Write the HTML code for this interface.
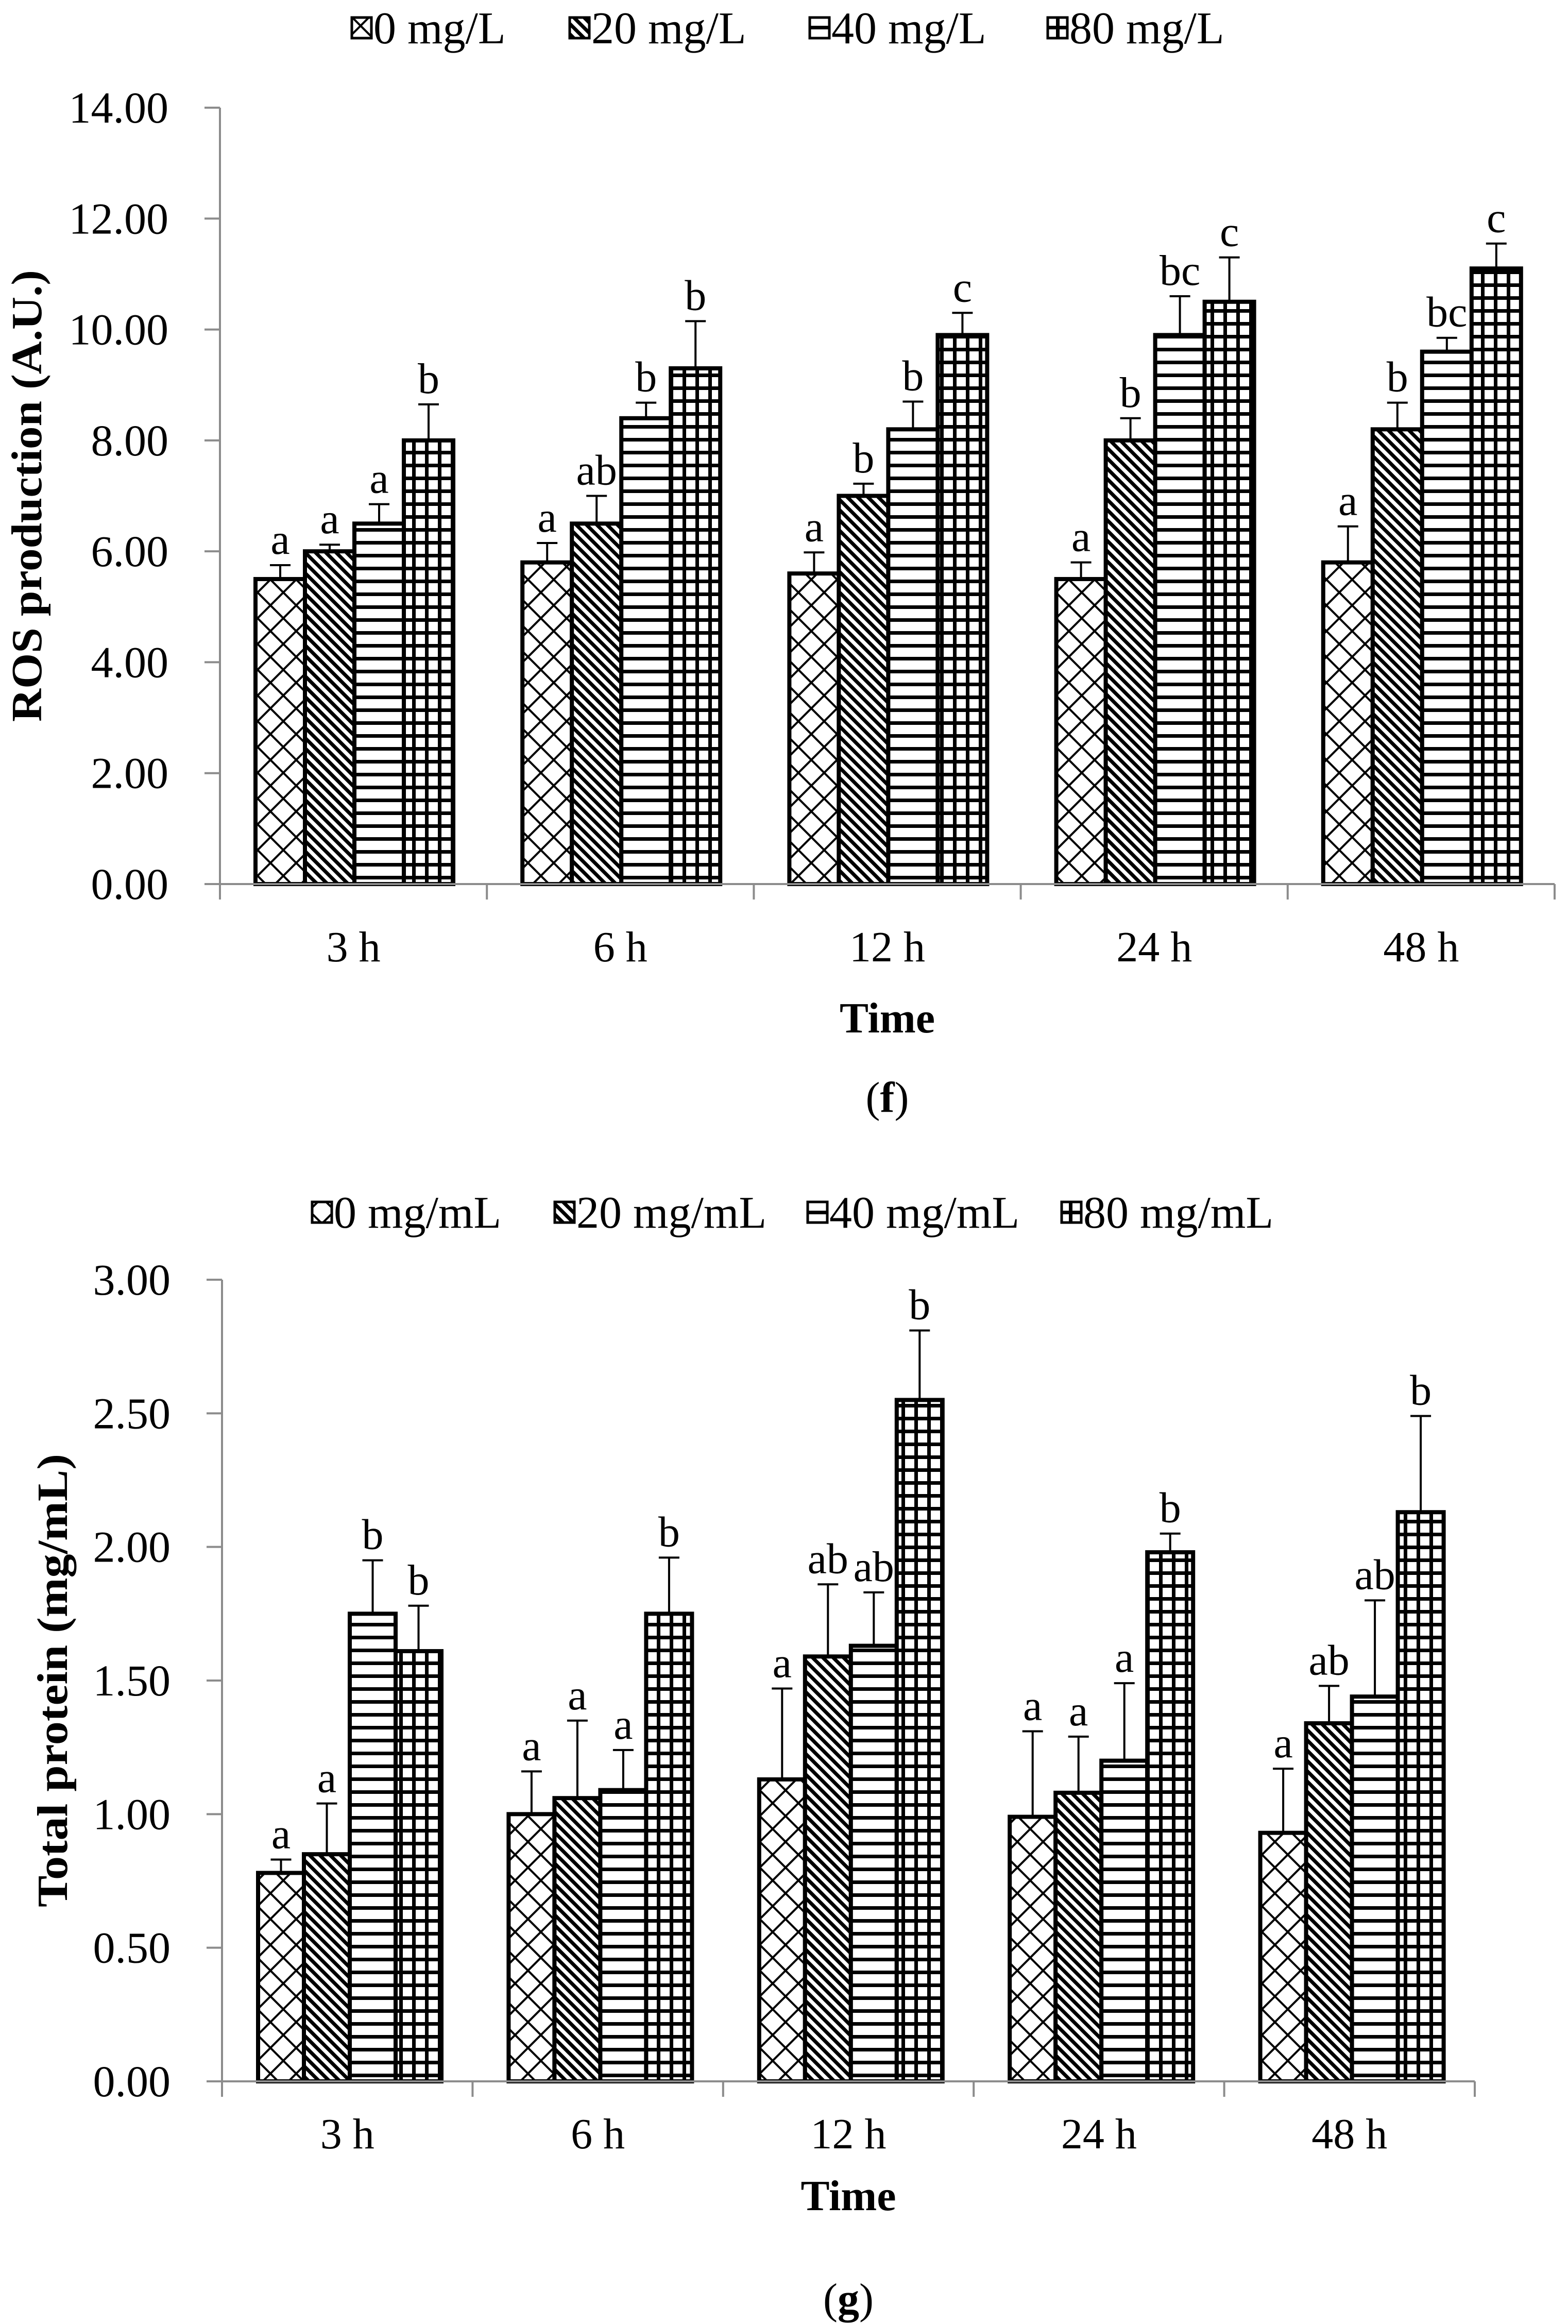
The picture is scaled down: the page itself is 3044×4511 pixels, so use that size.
<!DOCTYPE html>
<html><head><meta charset="utf-8"><style>
html,body{margin:0;padding:0;background:#fff}
svg{display:block}
text{font-family:"Liberation Serif",serif;fill:#000}
</style></head><body>
<svg id="fig" width="3044" height="4511" viewBox="0 0 3044 4511" xmlns="http://www.w3.org/2000/svg">
<defs>
<pattern id="p0" patternUnits="userSpaceOnUse" width="50" height="50"><rect width="50" height="50" fill="#fff"/><path d="M0 0L50 50M50 0L0 50" stroke="#000" stroke-width="4"/></pattern>
<pattern id="p1" patternUnits="userSpaceOnUse" width="20" height="20"><rect width="20" height="20" fill="#fff"/><path d="M-5 -5L25 25M-5 15L5 25M15 -5L25 5" stroke="#000" stroke-width="7"/></pattern>
<pattern id="p2" patternUnits="userSpaceOnUse" width="25" height="25"><rect width="25" height="25" fill="#fff"/><rect y="0" width="25" height="7" fill="#000"/></pattern>
<pattern id="p3" patternUnits="userSpaceOnUse" width="25" height="25"><rect width="25" height="25" fill="#fff"/><rect y="0" width="25" height="7" fill="#000"/><rect x="0" width="7" height="25" fill="#000"/></pattern>
</defs>
<g id="chartF"></g>
<g id="chartG"></g>
</svg>
<script>
const categories = ["3 h","6 h","12 h","24 h","48 h"];
const rosLegend = ["0 mg/L","20 mg/L","40 mg/L","80 mg/L"];
const ros0 = [5.5,5.8,5.6,5.5,5.8];
const ros20 = [6.0,6.5,7.0,8.0,8.2];
const ros40 = [6.5,8.4,8.2,9.9,9.6];
const ros80 = [8.0,9.3,9.9,10.5,11.1];
const rosErr0 = [0.25,0.35,0.38,0.3,0.65];
const rosErr20 = [0.12,0.5,0.22,0.4,0.48];
const rosErr40 = [0.35,0.28,0.5,0.7,0.25];
const rosErr80 = [0.65,0.85,0.4,0.8,0.45];
const rosLetters0 = ["a","a","a","a","a"];
const rosLetters20 = ["a","ab","b","b","b"];
const rosLetters40 = ["a","b","b","bc","bc"];
const rosLetters80 = ["b","b","c","c","c"];
const rosTicks = ["0.00","2.00","4.00","6.00","8.00","10.00","12.00","14.00"];

const protLegend = ["0 mg/mL","20 mg/mL","40 mg/mL","80 mg/mL"];
const prot0 = [0.78,1.0,1.13,0.99,0.93];
const prot20 = [0.85,1.06,1.59,1.08,1.34];
const prot40 = [1.75,1.09,1.63,1.2,1.44];
const prot80 = [1.61,1.75,2.55,1.98,2.13];
const protErr0 = [0.05,0.16,0.34,0.32,0.24];
const protErr20 = [0.19,0.29,0.27,0.21,0.14];
const protErr40 = [0.2,0.15,0.2,0.29,0.36];
const protErr80 = [0.17,0.21,0.26,0.07,0.36];
const protLetters0 = ["a","a","a","a","a"];
const protLetters20 = ["a","a","ab","a","ab"];
const protLetters40 = ["b","a","ab","a","ab"];
const protLetters80 = ["b","b","b","b","b"];
const protTicks = ["0.00","0.50","1.00","1.50","2.00","2.50","3.00"];

const NS="http://www.w3.org/2000/svg";
function mk(parent,tag,attrs,txt){const e=document.createElementNS(NS,tag);for(const k in attrs)e.setAttribute(k,attrs[k]);if(txt!==undefined)e.textContent=txt;parent.appendChild(e);return e;}

function draw(g,cfg){
  const {x0,x1,y0,y1,vmax,series,errs,letters,ticks,legend,legendBoxes,legendY,title,titleX,titleLen,labelY,timeY,panel,panelY,barOff,barW}=cfg;
  const yS=v=>y0-(v/vmax)*(y0-y1);
  const gw=(x1-x0)/categories.length;
  const ya=mk(g,'line',{x1:x0,y1:y1,x2:x0,y2:y0,stroke:'#8c8c8c','stroke-width':4});
  
  
  ticks.forEach((t,i)=>{
    const v=parseFloat(t);const y=yS(v);
    const tk=mk(g,'line',{x1:x0-30,y1:y,x2:x0,y2:y,stroke:'#8c8c8c','stroke-width':4});
    
    
    const tl=mk(g,'text',{x:x0-100,y:y+29,'text-anchor':'end','font-size':86},t);
    
    
  });
  const yt=mk(g,'text',{x:titleX,y:(y0+y1)/2,'text-anchor':'middle','font-size':84,'font-weight':'bold',transform:`rotate(-90 ${titleX} ${(y0+y1)/2})`,textLength:titleLen,lengthAdjust:'spacingAndGlyphs'},title);
  
  
  categories.forEach((c,ci)=>{
    const gx=x0+gw*ci;
    series.forEach((s,si)=>{
      const bx=gx+barOff+si*barW;
      const v=s[ci];const top=yS(v);
      const r=mk(g,'rect',{x:bx,y:top,width:barW,height:y0-top,fill:`url(#p${si})`,stroke:'#000','stroke-width':8});
      
      
      const et=yS(v+errs[si][ci]);const cx=bx+barW/2;
      const eb=mk(g,'path',{d:`M${cx} ${top}L${cx} ${et}M${cx-20} ${et}L${cx+20} ${et}`,stroke:'#000','stroke-width':4,fill:'none'});
      
      
      const lt=mk(g,'text',{x:cx,y:et-22,'text-anchor':'middle','font-size':84},letters[si][ci]);
      
      
    });
    const xl=mk(g,'text',{x:gx+gw/2,y:labelY,'text-anchor':'middle','font-size':84},c);
    
    
  });
  const xa=mk(g,'line',{x1:x0,y1:y0,x2:x1,y2:y0,stroke:'#8c8c8c','stroke-width':4});
  
  
  for(let i=0;i<=categories.length;i++){
    const xx=x0+gw*i;
    const t=mk(g,'line',{x1:xx,y1:y0,x2:xx,y2:y0+30,stroke:'#8c8c8c','stroke-width':4});
    
    
  }
  const xt=mk(g,'text',{x:(x0+x1)/2,y:timeY,'text-anchor':'middle','font-size':84,'font-weight':'bold'},'Time');
  
  
  const pl=mk(g,'text',{x:(x0+x1)/2,y:panelY,'text-anchor':'middle','font-size':84});
  
  
  mk(pl,'tspan',{},'(');
  mk(pl,'tspan',{'font-weight':'bold'},panel);
  mk(pl,'tspan',{},')');
  legend.forEach((l,i)=>{
    const lx=legendBoxes[i];
    const lg=mk(g,'g',{});
    
    
    mk(lg,'rect',{x:lx,y:legendY-22,width:38,height:40,fill:`url(#p${i})`,stroke:'#000','stroke-width':5});
    mk(lg,'text',{x:lx+42,y:legendY+28,'font-size':88},l);
  });
}

draw(document.getElementById('chartF'),{
  x0:427,x1:3018,y0:1716,y1:209,vmax:14,
  series:[ros0,ros20,ros40,ros80],errs:[rosErr0,rosErr20,rosErr40,rosErr80],
  letters:[rosLetters0,rosLetters20,rosLetters40,rosLetters80],ticks:rosTicks,
  legend:rosLegend,legendBoxes:[683,1106,1572,2034],legendY:56,
  title:'ROS production (A.U.)',titleX:80,titleLen:877,
  labelY:1866,timeY:2004,panel:'f',panelY:2158,barOff:69,barW:96
});
draw(document.getElementById('chartG'),{
  x0:431,x1:2863,y0:4040,y1:2484,vmax:3,
  series:[prot0,prot20,prot40,prot80],errs:[protErr0,protErr20,protErr40,protErr80],
  letters:[protLetters0,protLetters20,protLetters40,protLetters80],ticks:protTicks,
  legend:protLegend,legendBoxes:[606,1077,1568,2061],legendY:2355,
  title:'Total protein (mg/mL)',titleX:130,titleLen:880,
  labelY:4170,timeY:4290,panel:'g',panelY:4490,barOff:70,barW:89
});
</script>
</body></html>
